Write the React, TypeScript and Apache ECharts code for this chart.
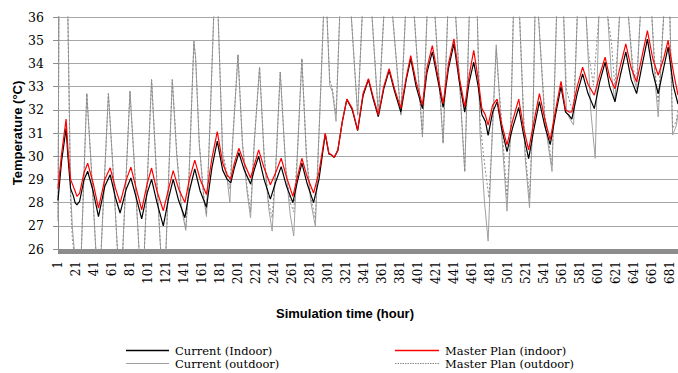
import React, { useEffect, useRef } from "react";
import * as echarts from "echarts";

// hours on the category axis
const TOTAL_HOURS = 690;
const hours: string[] = Array.from({ length: TOTAL_HOURS }, (_, i) => String(i + 1));

// Y axis range
const yMin = 26;
const yMax = 36;

// [hour, temperature] readings
const currentIndoor: [number, number][] = [
  [1, 28.1], [5, 29.8], [10, 31.2], [12, 30.0], [15, 28.6], [18, 28.3], [20, 28.0], [22, 27.9], [25, 28.05], [30, 29.0],
  [34, 29.35], [40, 28.5], [46, 27.4], [53, 28.7], [59, 29.2], [65, 28.2], [70, 27.55], [77, 28.6], [82, 29.06], [88, 28.2],
  [94, 27.3], [100, 28.4], [105, 29.0], [111, 28.0], [118, 27.0], [124, 28.2], [129, 29.0], [135, 28.1], [142, 27.35], [147, 28.5],
  [153, 29.45], [159, 28.5], [166, 27.8], [172, 29.5], [178, 30.65], [184, 29.4], [189, 29.0], [193, 28.85], [197, 29.5], [202, 30.15],
  [208, 29.4], [215, 28.8], [219, 29.4], [224, 30.0], [230, 29.0], [237, 28.15], [243, 28.9], [249, 29.55], [255, 28.7], [262, 28.0],
  [267, 28.9], [272, 29.7], [278, 28.8], [285, 28.0], [291, 29.0], [298, 30.95], [302, 30.1], [305, 30.05], [308, 29.95], [312, 30.25],
  [317, 31.5], [322, 32.45], [328, 32.0], [334, 31.1], [340, 32.6], [346, 33.3], [351, 32.5], [357, 31.7], [363, 32.9], [369, 33.7],
  [375, 32.8], [382, 31.9], [388, 33.3], [393, 34.2], [399, 33.0], [406, 32.05], [411, 33.6], [417, 34.5], [423, 33.3], [429, 32.1],
  [435, 33.8], [441, 34.85], [447, 33.2], [453, 31.9], [458, 33.2], [463, 34.05], [468, 33.0], [472, 31.8], [476, 31.5], [479, 30.9],
  [484, 31.9], [489, 32.35], [494, 31.2], [500, 30.2], [506, 31.2], [513, 32.1], [518, 31.0], [524, 29.9], [530, 31.2], [536, 32.35],
  [542, 31.3], [548, 30.5], [554, 31.8], [560, 33.0], [565, 31.9], [568, 31.8], [572, 31.6], [578, 32.7], [584, 33.55], [590, 32.7],
  [597, 32.05], [603, 33.2], [609, 34.05], [614, 33.0], [620, 32.35], [626, 33.5], [632, 34.5], [638, 33.3], [644, 32.7], [650, 33.9],
  [656, 35.05], [662, 33.6], [668, 32.7], [674, 33.8], [679, 34.7], [685, 33.0], [690, 32.25],
];

const masterIndoor: [number, number][] = [
  [1, 28.6], [5, 30.1], [10, 31.6], [12, 30.3], [15, 29.0], [18, 28.7], [20, 28.5], [22, 28.27], [25, 28.4], [30, 29.3],
  [34, 29.7], [40, 28.85], [46, 27.76], [53, 29.0], [59, 29.5], [65, 28.6], [70, 27.98], [77, 29.0], [82, 29.53], [88, 28.6],
  [94, 27.69], [100, 28.8], [105, 29.49], [111, 28.5], [118, 27.65], [124, 28.6], [129, 29.38], [135, 28.6], [142, 28.0], [147, 29.0],
  [153, 29.83], [159, 29.0], [166, 28.35], [172, 29.9], [178, 31.06], [184, 29.7], [189, 29.2], [193, 29.0], [197, 29.7], [202, 30.34],
  [208, 29.7], [215, 29.06], [219, 29.6], [224, 30.27], [230, 29.5], [237, 28.77], [243, 29.3], [249, 29.91], [255, 29.1], [262, 28.27],
  [267, 29.1], [272, 29.91], [278, 29.1], [285, 28.41], [291, 29.3], [298, 30.99], [302, 30.13], [305, 30.06], [308, 29.94], [312, 30.27],
  [317, 31.5], [322, 32.46], [328, 32.06], [334, 31.13], [340, 32.7], [346, 33.34], [351, 32.6], [357, 31.77], [363, 33.0], [369, 33.77],
  [375, 32.9], [382, 32.06], [388, 33.4], [393, 34.34], [399, 33.2], [406, 32.2], [411, 33.8], [417, 34.77], [423, 33.5], [429, 32.27],
  [435, 34.0], [441, 35.06], [447, 33.4], [453, 32.13], [458, 33.5], [463, 34.56], [468, 33.3], [472, 32.06], [476, 31.77], [479, 31.34],
  [484, 32.2], [489, 32.46], [494, 31.4], [500, 30.49], [506, 31.5], [513, 32.46], [518, 31.3], [524, 30.27], [530, 31.5], [536, 32.7],
  [542, 31.6], [548, 30.7], [554, 32.0], [560, 33.23], [565, 32.0], [569, 31.9], [572, 31.91], [578, 33.0], [584, 33.84], [590, 33.1],
  [597, 32.63], [603, 33.5], [609, 34.27], [614, 33.4], [620, 32.91], [626, 33.9], [632, 34.84], [638, 33.8], [644, 33.2], [650, 34.3],
  [656, 35.41], [662, 34.2], [668, 33.49], [674, 34.2], [679, 34.99], [685, 33.6], [690, 32.63],
];

const currentOutdoor: [number, number][] = [
  [1, 27.3], [2, 36.0], [6, 40.0], [12, 36.0], [15, 28.5], [17, 26.9], [19, 26.0], [23, 24.0], [27, 26.0], [33, 32.7],
  [38, 29.5], [43, 26.0], [46, 24.3], [49, 26.0], [57, 32.7], [62, 29.5], [67, 26.0], [70, 24.3], [73, 26.0], [81, 32.8],
  [86, 29.5], [91, 26.0], [94, 24.3], [97, 26.0], [105, 33.3], [110, 29.5], [115, 26.0], [118, 24.5], [121, 26.0], [128, 33.3],
  [133, 30.0], [138, 27.8], [143, 26.8], [146, 28.5], [152, 34.95], [154, 34.2], [158, 30.5], [163, 28.2], [166, 27.4], [170, 31.5],
  [174, 36.0], [176, 37.5], [179, 36.0], [184, 30.0], [189, 29.0], [192, 28.0], [195, 30.5], [201, 34.37], [206, 30.5], [211, 28.5],
  [215, 27.34], [219, 30.5], [225, 33.84], [230, 30.0], [235, 27.8], [239, 26.77], [243, 29.5], [248, 33.63], [254, 29.5], [259, 27.5],
  [263, 26.56], [267, 30.0], [272, 34.2], [277, 30.0], [282, 28.0], [287, 26.99], [292, 31.9], [296, 36.0], [298, 37.0], [300, 36.0],
  [303, 33.06], [306, 32.77], [310, 31.5], [314, 36.0], [320, 38.5], [327, 36.0], [334, 31.77], [339, 36.0], [345, 39.0], [350, 36.0],
  [357, 31.77], [363, 36.0], [368, 39.0], [373, 36.0], [382, 31.77], [387, 36.0], [392, 39.0], [397, 36.0], [406, 30.84], [411, 36.0],
  [416, 39.0], [420, 36.0], [429, 30.56], [434, 36.0], [439, 39.0], [443, 36.0], [453, 29.34], [458, 36.0], [462, 38.5], [467, 36.0],
  [470, 31.0], [475, 28.0], [479, 26.34], [482, 29.5], [488, 34.8], [494, 31.0], [500, 27.63], [504, 31.0], [507, 36.0], [511, 38.0],
  [514, 36.0], [520, 30.0], [525, 27.77], [529, 32.0], [531, 36.0], [533, 36.8], [535, 36.0], [542, 31.5], [550, 29.34], [555, 36.0],
  [559, 38.5], [563, 36.0], [566, 31.9], [570, 31.6], [574, 31.34], [578, 36.0], [583, 38.5], [588, 36.0], [593, 32.0], [598, 29.91],
  [602, 36.0], [607, 38.5], [612, 36.0], [616, 33.5], [620, 32.34], [625, 36.0], [630, 38.5], [635, 36.0], [640, 33.5], [644, 32.91],
  [648, 36.0], [654, 39.0], [661, 36.0], [665, 33.0], [668, 31.7], [674, 36.0], [677, 37.0], [681, 36.0], [684, 30.91], [688, 31.3],
  [690, 31.8],
];

const masterOutdoor: [number, number][] = [
  [1, 27.2], [2, 36.0], [6, 40.0], [12, 36.0], [15, 28.0], [17, 26.4], [19, 25.8], [23, 24.0], [27, 26.0], [33, 32.7],
  [38, 29.6], [43, 26.0], [46, 24.3], [49, 26.0], [57, 32.7], [62, 29.6], [67, 26.0], [70, 24.3], [73, 26.0], [81, 32.8],
  [86, 29.6], [91, 26.0], [94, 24.3], [97, 26.0], [105, 33.3], [110, 29.6], [115, 26.0], [118, 24.6], [121, 26.0], [128, 33.3],
  [133, 30.2], [138, 27.9], [143, 26.9], [146, 28.5], [152, 34.95], [154, 34.2], [158, 30.6], [163, 28.3], [166, 27.5], [170, 31.5],
  [174, 36.0], [176, 37.5], [179, 36.0], [184, 30.2], [189, 29.2], [192, 28.6], [195, 30.7], [201, 34.37], [206, 30.6], [211, 28.7],
  [215, 27.6], [219, 30.6], [225, 33.84], [230, 30.2], [235, 28.0], [239, 27.34], [243, 29.6], [248, 33.63], [254, 29.6], [259, 28.0],
  [263, 27.6], [267, 30.2], [272, 34.2], [277, 30.2], [282, 28.2], [287, 27.3], [292, 31.9], [296, 36.0], [298, 37.0], [300, 36.0],
  [303, 33.3], [306, 32.9], [310, 31.8], [314, 36.0], [320, 38.5], [327, 36.0], [334, 31.77], [339, 36.0], [345, 39.0], [350, 36.0],
  [357, 31.77], [363, 36.0], [368, 39.0], [373, 36.0], [382, 31.77], [387, 36.0], [392, 39.0], [397, 36.0], [406, 30.84], [411, 36.0],
  [416, 39.0], [420, 36.0], [429, 30.56], [434, 36.0], [439, 39.0], [443, 36.0], [453, 29.34], [458, 36.0], [462, 38.5], [467, 36.0],
  [470, 31.5], [474, 30.0], [477, 29.06], [480, 28.2], [483, 30.5], [488, 34.6], [494, 31.5], [500, 28.2], [504, 31.2], [507, 36.0],
  [511, 38.0], [514, 36.0], [520, 30.3], [525, 28.2], [529, 32.0], [531, 36.0], [533, 36.8], [535, 36.0], [542, 31.8], [550, 29.6],
  [555, 36.0], [559, 38.5], [563, 36.0], [566, 32.9], [570, 32.3], [574, 31.9], [578, 36.0], [583, 38.5], [588, 36.0], [590, 34.6],
  [596, 33.06], [602, 36.0], [607, 38.5], [612, 36.0], [616, 34.9], [620, 32.9], [625, 36.0], [630, 38.5], [635, 36.0], [640, 33.8],
  [644, 33.2], [648, 36.0], [654, 39.0], [661, 36.0], [665, 33.5], [668, 32.3], [674, 36.0], [677, 37.0], [681, 36.0], [684, 31.2],
  [688, 31.5], [690, 32.0],
];

const seriesNames = {
  ci: "Current (Indoor)",
  co: "Current (outdoor)",
  mi: "Master Plan (indoor)",
  mo: "Master Plan (outdoor)",
};

const toData = (pairs: [number, number][]) => pairs.map(([h, v]) => [h - 1, v]);

const colors = {
  ci: "#000000",
  mi: "#ff0000",
  co: "#a0a0a0",
  mo: "#8a8a8a",
};

export default function App() {
  const ref = useRef<HTMLDivElement>(null);

  useEffect(() => {
    if (!ref.current) return;
    const chart = echarts.init(ref.current, undefined, { renderer: "svg" });
    const serif = "DejaVu Serif";
    const lineBase = { type: "line" as const, symbol: "none", showSymbol: false, clip: true, silent: true };

    const legendFont = `11.5px "${serif}"`;
    const row1 = 350.5;
    const row2 = 363.5;
    const legendItem = (x1: number, x2: number, y: number, color: string, width: number, dash: number[] | null, label: string) => [
      {
        type: "line",
        shape: { x1, y1: y, x2, y2: y },
        style: { stroke: color, lineWidth: width, lineDash: dash || undefined },
        silent: true,
      },
      {
        type: "text",
        x: x2 + 6,
        y,
        style: { text: label, font: legendFont, fill: "#000", align: "left", verticalAlign: "middle" },
        silent: true,
      },
    ];

    chart.setOption({
      animation: false,
      backgroundColor: "#ffffff",
      grid: { left: 58, right: 0, top: 17, bottom: 124, containLabel: false },
      xAxis: {
        type: "category",
        data: hours,
        boundaryGap: false,
        axisLine: { show: true, lineStyle: { color: "#8c8c8c", width: 1 } },
        axisTick: { show: true, interval: 0, length: 5, lineStyle: { color: "#8c8c8c", width: 1 } },
        axisLabel: {
          interval: 19,
          rotate: 90,
          margin: 12,
          fontFamily: serif,
          fontSize: 12,
          color: "#000",
        },
        splitLine: { show: false },
      },
      yAxis: {
        type: "value",
        min: yMin,
        max: yMax,
        interval: 1,
        axisLine: { show: true, lineStyle: { color: "#8c8c8c", width: 1 } },
        axisTick: { show: true, length: 5, lineStyle: { color: "#8c8c8c" } },
        axisLabel: { margin: 14, fontFamily: serif, fontSize: 12.5, color: "#000" },
        splitLine: { show: true, lineStyle: { color: "#a6a6a6", width: 1 } },
      },
      graphic: [
        {
          type: "text",
          x: 17,
          y: 133,
          rotation: Math.PI / 2,
          style: {
            text: "Temperature (°C)",
            font: 'bold 13px "Liberation Sans"',
            fill: "#000",
            align: "center",
            verticalAlign: "middle",
          },
        },
        {
          type: "text",
          x: 345,
          y: 313,
          style: {
            text: "Simulation time (hour)",
            font: 'bold 13px "Liberation Sans"',
            fill: "#000",
            align: "center",
            verticalAlign: "middle",
          },
        },
        ...legendItem(126, 169, row1, colors.ci, 1.6, null, seriesNames.ci),
        ...legendItem(126, 169, row2, colors.co, 1.2, null, seriesNames.co),
        ...legendItem(395, 439, row1, colors.mi, 1.6, null, seriesNames.mi),
        ...legendItem(395, 439, row2, colors.mo, 1, [1.5, 1], seriesNames.mo),
      ],
      series: [
        {
          ...lineBase,
          name: seriesNames.co,
          data: toData(currentOutdoor),
          lineStyle: { color: colors.co, width: 1 },
          itemStyle: { color: colors.co },
        },
        {
          ...lineBase,
          name: seriesNames.mo,
          data: toData(masterOutdoor),
          lineStyle: { color: colors.mo, width: 1, type: [2, 2] },
          itemStyle: { color: colors.mo },
        },
        {
          ...lineBase,
          name: seriesNames.ci,
          data: toData(currentIndoor),
          lineStyle: { color: colors.ci, width: 1.2 },
          itemStyle: { color: colors.ci },
        },
        {
          ...lineBase,
          name: seriesNames.mi,
          data: toData(masterIndoor),
          lineStyle: { color: colors.mi, width: 1.2 },
          itemStyle: { color: colors.mi },
        },
      ],
    });
    return () => chart.dispose();
  }, []);

  return (
    <div
      ref={ref}
      style={{ position: "fixed", left: 0, top: 0, width: 678, height: 373, background: "#fff" }}
    />
  );
}
